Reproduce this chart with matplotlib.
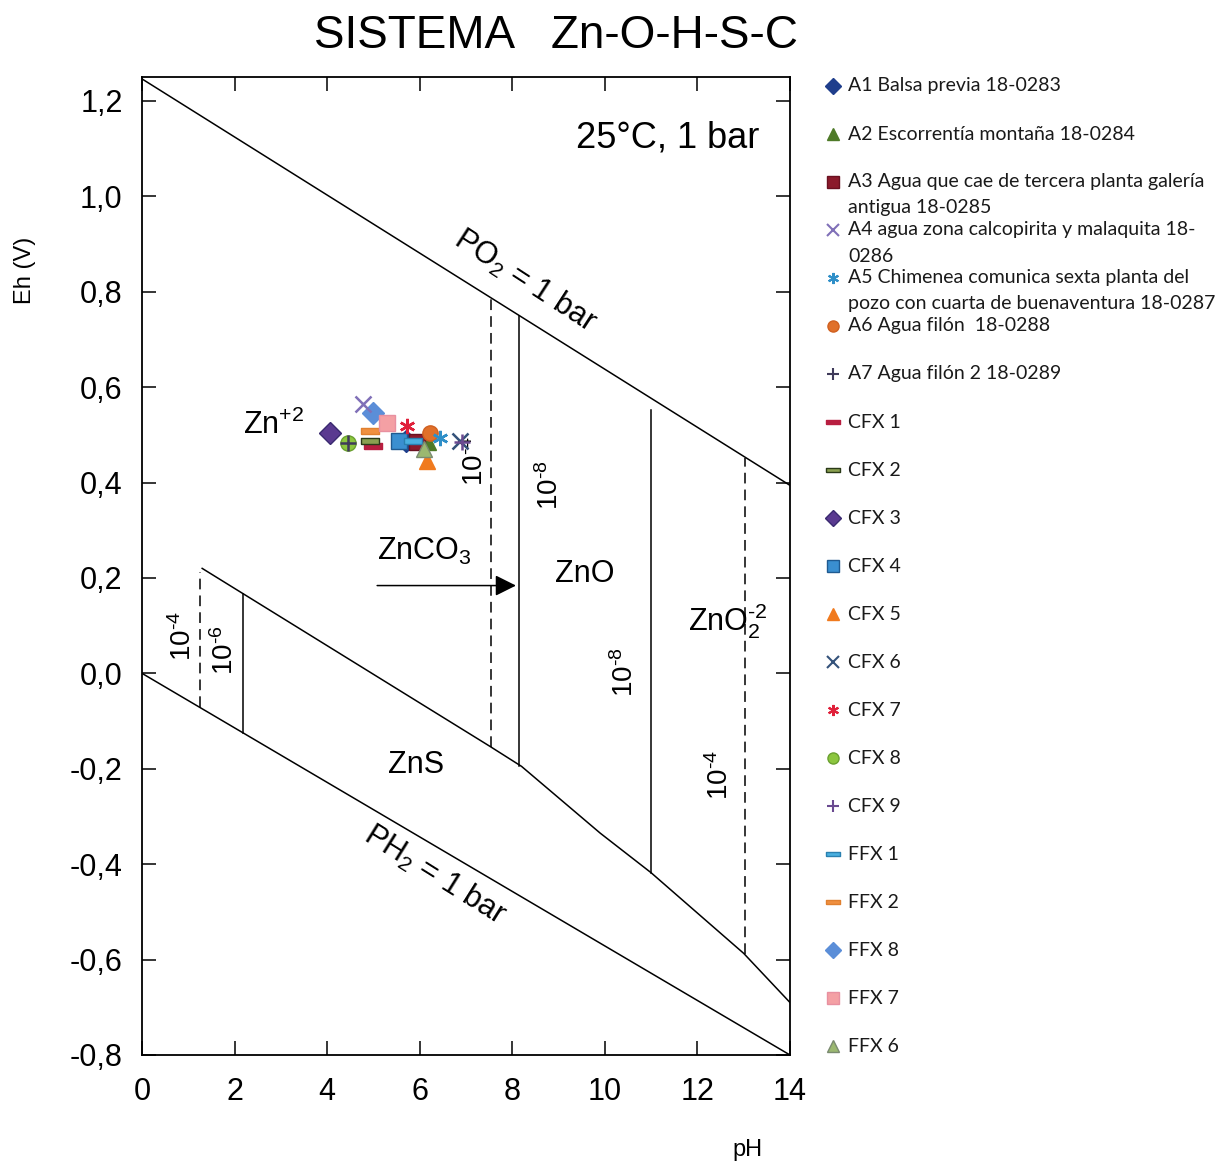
import matplotlib.pyplot as plt
import numpy as np

plt.rcParams["font.family"] = ["Liberation Sans", "DejaVu Sans"]
plt.rcParams["mathtext.fontset"] = "custom"
plt.rcParams["mathtext.rm"] = "Liberation Sans"
plt.rcParams["mathtext.it"] = "Liberation Sans"
plt.rcParams["mathtext.default"] = "regular"

W, H = 1229, 1166

# stability field boundaries (pH, Eh)
po2_ph = [0.0, 14.0]
po2_eh = [1.246, 0.394]
ph2_ph = [0.0, 14.0]
ph2_eh = [0.0, -0.80]
zns_ph = [1.30, 7.50, 8.20, 9.90, 11.0, 13.0, 14.0]
zns_eh = [0.220, -0.152, -0.195, -0.335, -0.418, -0.587, -0.690]

# vertical boundaries: pH, Eh bottom, Eh top, dashed?
vert_ph = [1.25, 2.18, 7.55, 8.15, 11.0, 13.02]
vert_lo = [-0.071, -0.125, -0.155, -0.195, -0.418, -0.588]
vert_hi = [0.212, 0.167, 0.786, 0.748, 0.552, 0.452]
vert_dashed = [True, False, True, False, False, True]

# samples
names = [
    "A1 Balsa previa 18-0283",
    "A2 Escorrentía montaña 18-0284",
    "A3 Agua que cae de tercera planta galería\nantigua 18-0285",
    "A4 agua zona calcopirita y malaquita 18-\n0286",
    "A5 Chimenea comunica sexta planta del\npozo con cuarta de buenaventura 18-0287",
    "A6 Agua filón  18-0288",
    "A7 Agua filón 2 18-0289",
    "CFX 1", "CFX 2", "CFX 3", "CFX 4", "CFX 5", "CFX 6", "CFX 7", "CFX 8", "CFX 9",
    "FFX 1", "FFX 2", "FFX 8", "FFX 7", "FFX 6",
]
sample_ph = [5.70, 6.18, 5.94, 4.77, 6.44, 6.22, 4.45,
             5.00, 4.92, 4.06, 5.55, 6.16, 6.87, 5.72, 4.45, 6.91,
             5.85, 4.92, 4.99, 5.30, 6.10]
sample_eh = [0.488, 0.484, 0.484, 0.565, 0.494, 0.503, 0.482,
             0.476, 0.486, 0.503, 0.488, 0.446, 0.488, 0.519, 0.482, 0.484,
             0.488, 0.507, 0.545, 0.524, 0.470]

dash = [(-1, -0.32), (1, -0.32), (1, 0.32), (-1, 0.32), (-1, -0.32)]
markers = ["D", "^", "s", "x", (6, 2, 0), "o", "+",
           dash, dash, "D", "s", "^", "x", (6, 2, 0), "o", "+",
           dash, dash, "D", "s", "^"]
colors = ["#1f3e8c", "#4e7a28", "#8b1a2b", "#8070b8", "#2f8fc8", "#e0702a", "#3f3a5a",
          "#b81e40", "#8aa050", "#5a3a90", "#3a8fd0", "#f07a1e", "#34527a", "#e0203a",
          "#8cc63e", "#6a4a90",
          "#4ab0e0", "#f09040", "#5b8ed8", "#f4a0a4", "#9bb870"]
edges = ["#1f3e8c", "#4e7a28", "#6a1020", "#8070b8", "#2f8fc8", "#d06020", "#3f3a5a",
         "#b81e40", "#2a3a18", "#3a2a70", "#1f5a90", "#f07a1e", "#34527a", "#e0203a",
         "#6aa030", "#6a4a90",
         "#2a80b0", "#e08030", "#5b8ed8", "#e890a0", "#7a8a70"]

fig = plt.figure(figsize=(W / 100, H / 100), dpi=100)
ax = fig.add_axes([142 / W, 1 - 1055 / H, (790 - 142) / W, (1055 - 77) / H])

lw = 1.1
ax.plot(po2_ph, po2_eh, color="black", lw=lw)
ax.plot(ph2_ph, ph2_eh, color="black", lw=lw)
ax.plot(zns_ph, zns_eh, color="black", lw=lw)
for p, lo, hi, d in zip(vert_ph, vert_lo, vert_hi, vert_dashed):
    ax.plot([p, p], [lo, hi], color="black", lw=lw,
            linestyle=(0, (7, 4)) if d else "-")

ax.annotate("", xy=(8.08, 0.184), xytext=(5.08, 0.184),
            arrowprops=dict(arrowstyle="-|>", color="black", lw=1.1,
                            mutation_scale=32, shrinkA=0, shrinkB=0))

# sample points
for i in range(len(names)):
    filled = markers[i] not in ("x", "+") and not isinstance(markers[i], tuple)
    ax.plot(sample_ph[i], sample_eh[i], linestyle="none", marker=markers[i],
            markersize=13 if markers[i] is dash else 11,
            markerfacecolor=colors[i], markeredgecolor=edges[i] if filled else colors[i],
            markeredgewidth=1.0 if filled else 1.8,
            zorder=4 if filled else 5)

ax.set_xlim(0, 14)
ax.set_ylim(-0.8, 1.25)
ax.set_xticks(np.arange(0, 15, 2))
ax.set_yticks(np.arange(-0.8, 1.21, 0.2))
ax.set_xticklabels([f"{int(v)}" for v in np.arange(0, 15, 2)])
ax.set_yticklabels([f"{v:.1f}".replace(".", ",").replace("-0,0", "0,0")
                    for v in np.arange(-0.8, 1.21, 0.2)])
ax.tick_params(direction="in", length=10, width=1.1, top=True, right=True,
               labelsize=22)
ax.tick_params(axis="y", pad=14)
ax.tick_params(axis="x", pad=16)
for s in ax.spines.values():
    s.set_linewidth(1.3)

# labels inside diagram
fs = 22
ax.text(2.18, 0.52, "Zn$^{\\text{+}2}$", fontsize=fs, va="center", ha="left")
ax.text(5.08, 0.255, "ZnCO$_3$", fontsize=fs, va="center", ha="left")
ax.text(9.57, 0.209, "ZnO", fontsize=fs, va="center", ha="center")
ax.text(11.8, 0.11, "ZnO$_2^{\\text{-}2}$", fontsize=fs, va="center", ha="left")
ax.text(5.92, -0.193, "ZnS", fontsize=fs, va="center", ha="center")
ax.text(13.33, 1.122, "25°C, 1 bar", fontsize=26, va="center", ha="right")
ax.text(8.27, 0.822, "PO$_2$ = 1 bar", fontsize=22, rotation=-33,
        va="center", ha="center", rotation_mode="anchor")
ax.text(6.33, -0.423, "PH$_2$ = 1 bar", fontsize=22, rotation=-32,
        va="center", ha="center", rotation_mode="anchor")

conc_ph = [7.19, 8.81, 0.89, 1.79, 10.43, 12.48]
conc_eh = [0.446, 0.394, 0.078, 0.048, 0.002, -0.214]
conc_txt = ["10$^{\\text{-}4}$", "10$^{\\text{-}8}$", "10$^{\\text{-}4}$",
            "10$^{\\text{-}6}$", "10$^{\\text{-}8}$", "10$^{\\text{-}4}$"]
for p, e, t in zip(conc_ph, conc_eh, conc_txt):
    ax.text(p, e, t, fontsize=20, rotation=90, va="center", ha="center")

fig.text(556 / W, 1 - 36 / H, "SISTEMA   Zn-O-H-S-C", fontsize=33,
         ha="center", va="center")
fig.text(25 / W, 1 - 270 / H, "Eh (V)", fontsize=17, rotation=90,
         ha="center", va="center")
fig.text(748 / W, 1 - 1150 / H, "pH", fontsize=17, ha="center", va="center")

# legend drawn beside the diagram
lg = fig.add_axes([0, 0, 1, 1])
lg.set_xlim(0, W)
lg.set_ylim(H, 0)
lg.axis("off")
for i in range(len(names)):
    y = 86 + 48 * i
    filled = markers[i] not in ("x", "+") and not isinstance(markers[i], tuple)
    lg.plot(833, y, linestyle="none", marker=markers[i],
            markersize=10 if markers[i] is dash else 8,
            markerfacecolor=colors[i], markeredgecolor=edges[i] if filled else colors[i],
            markeredgewidth=1.0 if filled else 1.5)
    for k, line in enumerate(names[i].split("\n")):
        lg.text(848, y + 26 * k, line, fontsize=14, family=["Lato", "DejaVu Sans"],
                ha="left", va="center", color="#1a1a1a")

fig.savefig("out.png", dpi=100)
